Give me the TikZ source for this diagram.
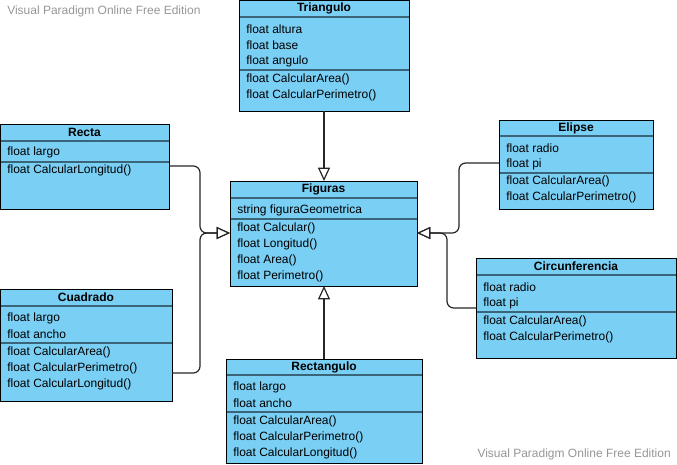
\documentclass[tikz,border=0pt]{standalone}
\usepackage{fontspec}
\setmainfont{Liberation Sans}
\usetikzlibrary{arrows.meta,fit}
\definecolor{umlfill}{RGB}{122,207,245}
\definecolor{umldiv}{RGB}{58,100,120}
\definecolor{wmark}{RGB}{150,150,150}
\tikzset{
  classbox/.style={draw=black, fill=umlfill, line width=0.75pt, inner sep=0pt, outer sep=0pt},
  divline/.style={draw=umldiv, line width=1.1pt},
  attr/.style={anchor=west, inner sep=0pt, font=\fontsize{9}{10}\selectfont},
  title/.style={anchor=center, inner sep=0pt, font=\fontsize{9}{10}\selectfont\bfseries},
  conn/.style={draw=black!85, line width=0.9pt, rounded corners=5pt},
  gen/.style={-{Triangle[open,fill=white,length=10pt,width=9pt]}},
  wm/.style={text=wmark, font=\fontsize{9}{10}\selectfont, inner sep=0pt}
}
\newcommand{\umlclass}[9]{%
  \node[classbox, fit={(#2,#3) (#4,#5)}] (#1) {};
  \draw[divline] (#2,#7) -- (#4,#7);
  \draw[divline] (#2,#8) -- (#4,#8);
  \draw[black, line width=0.75pt] (#1.north west) rectangle (#1.south east);
  \node[title] (#1-t) at ({(#2+#4)/2},{(#3+#7)/2}) {#6};
  \foreach \yy/\tx [count=\i] in {#9} \node[attr] (#1-\i) at (#2+7,\yy) {\tx};
}
\begin{document}
\begin{tikzpicture}[x=0.75pt,y=-0.75pt]
\useasboundingbox (0,0) rectangle (677,464);
\node[wm, anchor=west] (wm1) at (7,11) {Visual Paradigm Online Free Edition};
\node[wm, anchor=east] (wm2) at (671,454) {Visual Paradigm Online Free Edition};

\umlclass{tri}{239}{0}{409}{111}{Triangulo}{17}{70}{29/float altura,45/float base,61/float angulo,79/float CalcularArea(),95/float CalcularPerimetro()}
\umlclass{recta}{0}{124}{169}{209}{Recta}{141}{162}{152/float largo,170/float CalcularLongitud()}
\umlclass{fig}{230}{181}{417}{286}{Figuras}{198}{219}{210/string figuraGeometrica,228/float Calcular(),244/float Longitud(),260/float Area(),276/float Perimetro()}
\umlclass{eli}{499}{120}{653}{209}{Elipse}{136}{173}{148/float radio,164/float pi,181/float CalcularArea(),197/float CalcularPerimetro()}
\umlclass{circ}{476}{258}{676}{358}{Circunferencia}{275}{312}{287/float radio,303/float pi,321/float CalcularArea(),337/float CalcularPerimetro()}
\umlclass{cuad}{0}{289}{172}{401}{Cuadrado}{306}{343}{318/float largo,334/float ancho,352/float CalcularArea(),368/float CalcularPerimetro(),384/float CalcularLongitud()}
\umlclass{rect}{226}{359}{422}{463}{Rectangulo}{375}{412}{387/float largo,403/float ancho,421/float CalcularArea(),437/float CalcularPerimetro(),453/float CalcularLongitud()}

\draw[conn,gen] (tri.south) -- (tri.south |- fig.north);
\draw[conn,gen] (rect.north) -- (rect.north |- fig.south);
\draw[conn,gen] (recta.east |- 0,166) -- (200,166) -- (200,233) -- (fig.west |- 0,233);
\draw[conn,gen] (cuad.east |- 0,373) -- (200,373) -- (200,233) -- (fig.west |- 0,233);
\draw[conn,gen] (eli.west |- 0,163) -- (459,163) -- (459,233) -- (fig.east |- 0,233);
\draw[conn,gen] (circ.west |- 0,308) -- (447,308) -- (447,233) -- (fig.east |- 0,233);
\end{tikzpicture}
\end{document}
